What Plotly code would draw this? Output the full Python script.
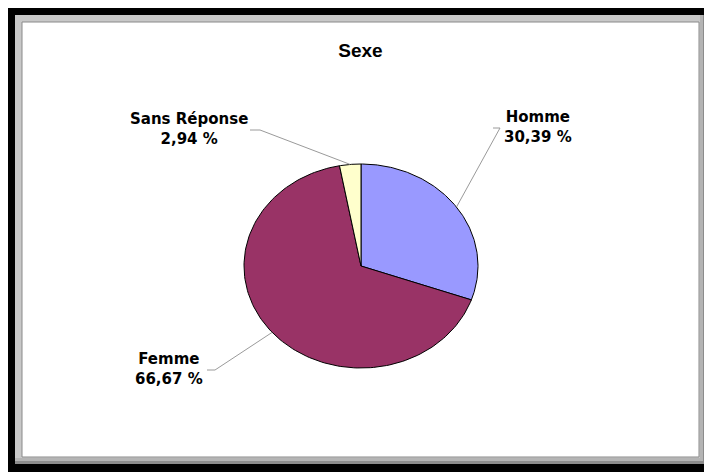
import numpy as np
import plotly.graph_objects as go

# data
labels = ["Homme", "Femme", "Sans Réponse"]
values = [30.39, 66.67, 2.94]
value_text = ["30,39 %", "66,67 %", "2,94 %"]
colors = ["#9999FF", "#993366", "#FFFFCC"]

W, H = 712, 472
OFF = 8             # the page body margin pushes the figure 8px right/down
CX, CY = 361, 266   # pie centre in screen px (from top left)
RX, RY = 117, 102   # the pie is slightly squashed, like the excel original

# label block centres and leader line start/elbow, in screen px
label_xy = {"Homme": (538, 127), "Femme": (169, 369), "Sans Réponse": (189, 129)}
leader_xy = {"Homme": [(493, 128), (500, 128)],
             "Femme": [(207, 370), (215, 370)],
             "Sans Réponse": [(250, 130), (260, 130)]}


def to_x(px):
    return (px - CX) / RX


def to_y(py):
    return (CY - py) / RY


def paper(px, py):
    return (px - OFF) / W, 1 - (py - OFF) / H


fig = go.Figure()

total = sum(values)
start = 0.0
mids = []
for lab, val, col, vt in zip(labels, values, colors, value_text):
    a0 = start / total * 2 * np.pi
    a1 = (start + val) / total * 2 * np.pi
    t = np.linspace(a0, a1, 150)
    xs = np.concatenate([[0], np.sin(t), [0]])
    ys = np.concatenate([[0], np.cos(t), [0]])
    fig.add_trace(go.Scatter(
        x=xs, y=ys, mode="lines", fill="toself", fillcolor=col,
        line=dict(color="black", width=1), name=lab,
        hoverinfo="text", text=lab + " " + vt, showlegend=False))
    mids.append((a0 + a1) / 2)
    start += val

# leader lines from the labels to the middle of each slice edge
for lab, m in zip(labels, mids):
    pts = leader_xy[lab]
    lx = [to_x(p[0]) for p in pts] + [np.sin(m)]
    ly = [to_y(p[1]) for p in pts] + [np.cos(m)]
    fig.add_trace(go.Scatter(x=lx, y=ly, mode="lines",
                             line=dict(color="#9a9a9a", width=1),
                             hoverinfo="skip", showlegend=False))

for lab, vt in zip(labels, value_text):
    px, py = label_xy[lab]
    fig.add_annotation(x=to_x(px), y=to_y(py), xref="x", yref="y",
                       text="<b>" + lab + "<br>" + vt + "</b>",
                       showarrow=False, align="center",
                       xanchor="center", yanchor="middle",
                       font=dict(family="DejaVu Sans", size=15, color="black"))

# frame: black border, grey shadow, white panel
shapes = []
def rect(x0, y0, x1, y1, fill, line=None):
    a, b = paper(x0, y0)
    c, d = paper(x1, y1)
    shapes.append(dict(type="rect", xref="paper", yref="paper",
                       x0=a, y0=d, x1=c, y1=b, fillcolor=fill, layer="below",
                       line=dict(color=line or fill, width=1 if line else 0)))

rect(OFF, OFF, W + OFF, H + OFF, "black")
rect(15, 15, 707, 464, "#8c8c8c")
rect(15, 15, 703, 461, "#b4b4b4")
rect(15, 15, 700, 458, "#c8c8c8")
rect(22, 22, 699, 457, "white", "#8a8a8a")

fig.update_layout(
    width=W, height=H,
    margin=dict(l=0, r=0, t=0, b=0),
    paper_bgcolor="white", plot_bgcolor="rgba(0,0,0,0)",
    shapes=shapes,
    title=dict(text="<b>Sexe</b>", x=(360.5 - OFF) / W, y=1 - (50 - OFF) / H,
               xanchor="center", yanchor="middle",
               font=dict(family="Liberation Sans", size=19, color="black")),
    xaxis=dict(range=[to_x(OFF), to_x(W + OFF)], visible=False, fixedrange=True),
    yaxis=dict(range=[to_y(H + OFF), to_y(OFF)], visible=False, fixedrange=True),
)

fig.write_html("out.html")
